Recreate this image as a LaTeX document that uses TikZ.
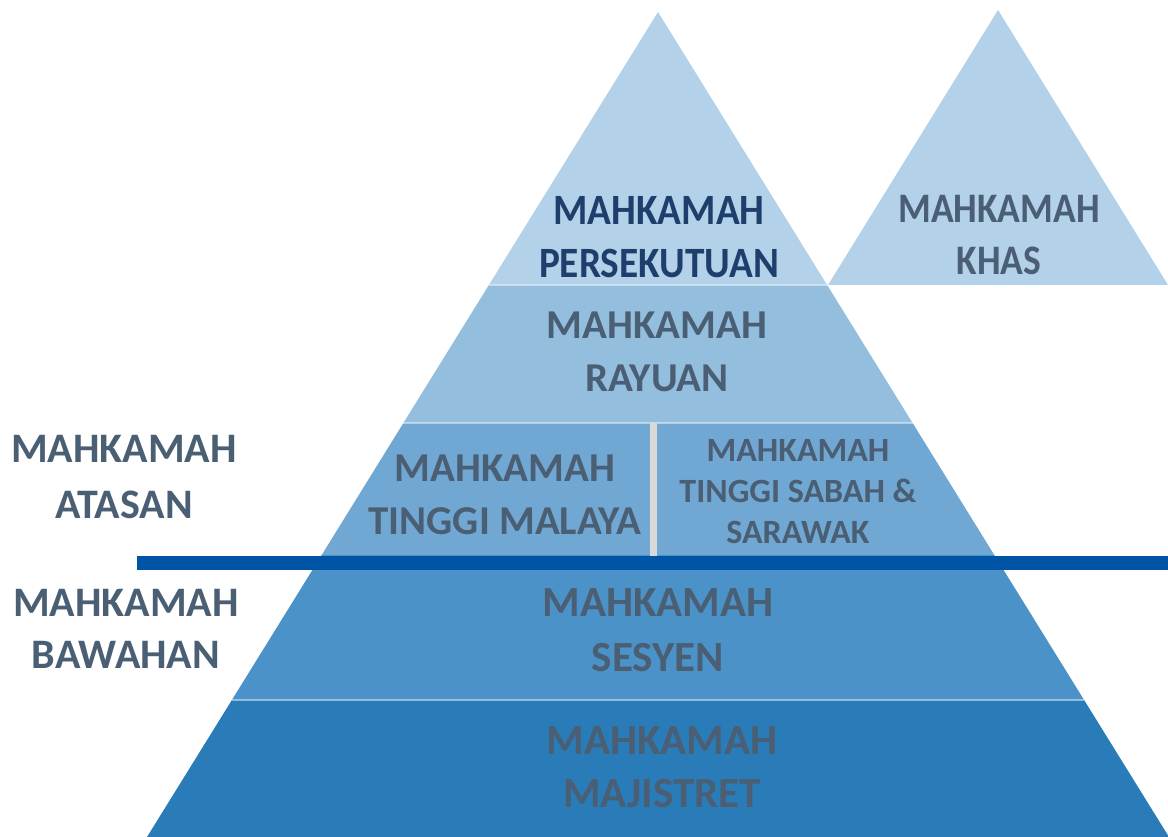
\documentclass[tikz,border=0pt]{standalone}
\usepackage{fontspec}
\setmainfont{Carlito}
\definecolor{cTop}{HTML}{B3D1E8}
\definecolor{cRay}{HTML}{93BEDE}
\definecolor{cTin}{HTML}{70A8D3}
\definecolor{cSes}{HTML}{4A92C7}
\definecolor{cMaj}{HTML}{2A7CB9}
\definecolor{cLine}{HTML}{0054A6}
\definecolor{cTxt}{HTML}{4A5E74}
\definecolor{cNavy}{HTML}{1E3F6C}
\definecolor{cDiv}{HTML}{D9D9D9}
\tikzset{
  sep/.style={draw=white, draw opacity=0.45, line width=2pt},
  lbl/.style={align=center, inner sep=0pt, text=cTxt,
    font=\fontsize{41}{53}\selectfont\bfseries},
}
\begin{document}
\begin{tikzpicture}[x=1pt,y=-1pt]
\useasboundingbox (0,0) rectangle (1168,837);
% pyramid coordinates
\coordinate (apex) at (658,12);
\coordinate (l1) at (488.9,285); \coordinate (r1) at (827.1,285);
\coordinate (l2) at (403.4,423); \coordinate (r2) at (912.6,423);
\coordinate (l3) at (321.7,555); \coordinate (r3) at (994.3,555);
\coordinate (l4) at (231.9,700); \coordinate (r4) at (1084.1,700);
\coordinate (l5) at (147,837);   \coordinate (r5) at (1169,837);
% bands
\fill[cTop] (apex) -- (r1) -- (l1) -- cycle;
\fill[cRay] (l1) -- (r1) -- (r2) -- (l2) -- cycle;
\fill[cTin] (l2) -- (r2) -- (r3) -- (l3) -- cycle;
\fill[cSes] (l3) -- (r3) -- (r4) -- (l4) -- cycle;
\fill[cMaj] (l4) -- (r4) -- (r5) -- (l5) -- cycle;
% small triangle
\coordinate (kapex) at (998,10);
\coordinate (kl) at (828,285); \coordinate (kr) at (1168,285);
\fill[cTop] (kapex) -- (kr) -- (kl) -- cycle;
% separators
\draw[sep] (l1) -- (r1);
\draw[sep] (l2) -- (r2);
\draw[sep] (l4) -- (r4);
\coordinate (dt) at (653.5,423); \coordinate (db) at (653.5,556);
\draw[cDiv, line width=7pt] (dt) -- (db);
% blue divider line
\coordinate (bl) at (137,563); \coordinate (br) at (1168,563);
\draw[cLine, line width=14pt] (bl) -- (br);
% labels
\begin{scope}[shift={(659,237.5)}, yscale=1.1]
\node[lbl, text=cNavy, transform shape, font=\fontsize{39.3}{48}\selectfont\bfseries] (fed) at (0,0) {MAHKAMAH\\PERSEKUTUAN};
\end{scope}
\begin{scope}[shift={(999,235)}, yscale=1.12]
\node[lbl, transform shape, font=\fontsize{37.5}{46.5}\selectfont\bfseries] (khas) at (0,0) {MAHKAMAH\\KHAS};
\end{scope}
\node[lbl] (ray) at (657,352) {MAHKAMAH\\RAYUAN};
\node[lbl] (mal) at (505,495) {MAHKAMAH\\TINGGI MALAYA};
\node[lbl, font=\fontsize{34}{41}\selectfont\bfseries] (sab) at (798,492) {MAHKAMAH\\TINGGI SABAH \&\\SARAWAK};
\node[lbl, font=\fontsize{42}{56}\selectfont\bfseries] (ata) at (124,477) {MAHKAMAH\\ATASAN};
\node[lbl, font=\fontsize{42}{52}\selectfont\bfseries] (baw) at (126,629) {MAHKAMAH\\BAWAHAN};
\node[lbl, font=\fontsize{43}{55}\selectfont\bfseries] (ses) at (658,630) {MAHKAMAH\\SESYEN};
\node[lbl, font=\fontsize{43}{53}\selectfont\bfseries] (maj) at (662,767) {MAHKAMAH\\MAJISTRET};
\end{tikzpicture}
\end{document}
